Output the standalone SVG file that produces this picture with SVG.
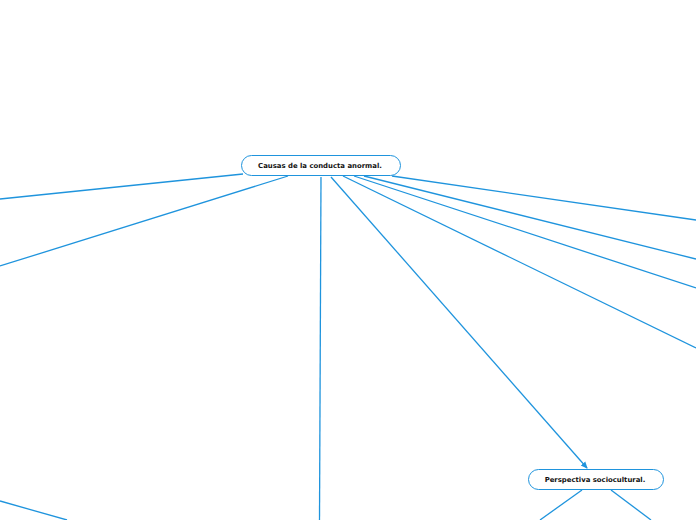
<svg xmlns="http://www.w3.org/2000/svg" width="696" height="520" viewBox="0 0 696 520">
<style>
.node rect{fill:#fff;stroke:#1f94dd;stroke-width:1}
.node text{font-family:"DejaVu Sans",Verdana,sans-serif;font-weight:bold;font-size:6.9px;fill:#111;text-anchor:middle}
.conn line{stroke:#1f94dd;stroke-width:1.3;fill:none}
</style>
<defs>
<marker id="arr" markerWidth="8" markerHeight="8" refX="6" refY="4" orient="auto" markerUnits="userSpaceOnUse">
<path d="M0,1 L7,4 L0,7 Z" fill="#1f94dd"/>
</marker>
</defs>
<rect width="696" height="520" fill="#fff"/>
<g id="connectors" class="conn">
<line x1="243" y1="174" x2="0" y2="199"/>
<line x1="288" y1="176" x2="0" y2="266"/>
<line x1="321" y1="177" x2="319.5" y2="520"/>
<line x1="331" y1="177" x2="587" y2="468" marker-end="url(#arr)"/>
<line x1="343" y1="176" x2="696" y2="348"/>
<line x1="354" y1="176" x2="696" y2="288"/>
<line x1="364" y1="176" x2="696" y2="259"/>
<line x1="392" y1="176" x2="696" y2="220"/>
<line x1="582" y1="490" x2="540" y2="520"/>
<line x1="611" y1="490" x2="651" y2="520"/>
<line x1="0" y1="501" x2="67" y2="520"/>
</g>
<g id="n-main" class="node">
<rect x="241.5" y="155.5" width="159" height="20" rx="10"/>
<text x="320" y="168">Causas de la conducta anormal.</text>
</g>
<g id="n-socio" class="node">
<rect x="528.5" y="469.5" width="135" height="20" rx="10"/>
<text x="595" y="482">Perspectiva sociocultural.</text>
</g>
</svg>
